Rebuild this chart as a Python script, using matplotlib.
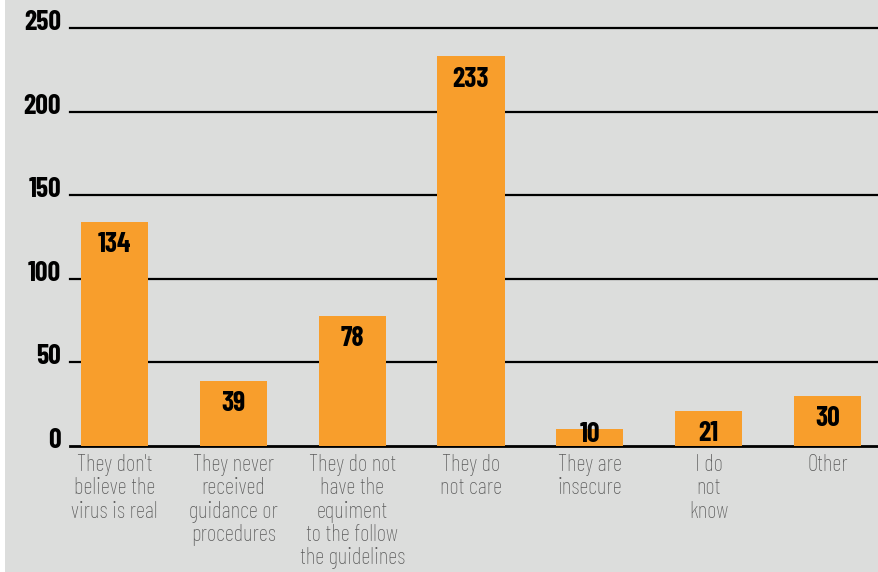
import matplotlib
matplotlib.use('Agg')
import matplotlib.pyplot as plt
from matplotlib.patches import Rectangle
from matplotlib.transforms import offset_copy

categories = [
    "They don't\nbelieve the\nvirus is real",
    "They never\nreceived\nguidance or\nprocedures",
    "They do not\nhave the\nequiment\nto the follow\nthe guidelines",
    "They do\nnot care",
    "They are\ninsecure",
    "I do\nnot\nknow",
    "Other",
]
counts = [134, 39, 78, 233, 10, 21, 30]
yticks = [0, 50, 100, 150, 200, 250]

bg = '#dcdddc'
bar_color = '#f89e2c'
cond = ['Barlow Condensed', 'Archivo Narrow', 'DejaVu Sans']

fig = plt.figure(figsize=(8.79, 5.72), dpi=100, facecolor=bg)
# thin white strip down the left edge
fig.patches.append(Rectangle((0, 0), 5 / 879, 1, transform=fig.transFigure,
                             facecolor='white', edgecolor='none', zorder=0))

ax = fig.add_axes([70 / 879, 126 / 572, 1 - 70 / 879, 418 / 572])
ax.set_facecolor(bg)
ax.set_xlim(-0.375, 6.434)
ax.set_ylim(0, 250)

for t in yticks:
    ax.axhline(t, color='black', lw=2.0 if t == 0 else 1.6, zorder=1, clip_on=False)

x = list(range(len(counts)))
ax.bar(x, counts, width=0.564, color=bar_color, zorder=2)

# value inside the top of each bar, kept clear of the baseline for short bars
px_per_unit = 418 / 250
for xi, v in zip(x, counts):
    y = max(v - 23 / px_per_unit, 11 / px_per_unit)
    ax.text(xi, y, str(v), ha='center', va='center', fontsize=20,
            fontweight='bold', family=cond, color='black', zorder=3)

lab_tr = offset_copy(ax.transData, fig=fig, x=0, y=-8, units='dots')
for xi, lab in zip(x, categories):
    ax.text(xi, 0, lab, ha='center', va='top', fontsize=16.5, family=cond,
            fontweight='light', color='#5a5a5a', linespacing=1.08,
            transform=lab_tr)

tick_tr = offset_copy(ax.transData, fig=fig, x=0, y=-2, units='dots')
for t in yticks:
    ax.text(-0.45, t, str(t), ha='right', va='baseline', fontsize=20,
            fontweight='bold', family=cond, color='black', transform=tick_tr)

for s in ax.spines.values():
    s.set_visible(False)
ax.set_xticks([])
ax.set_yticks([])

fig.savefig('out.png', dpi=100, facecolor=bg)
